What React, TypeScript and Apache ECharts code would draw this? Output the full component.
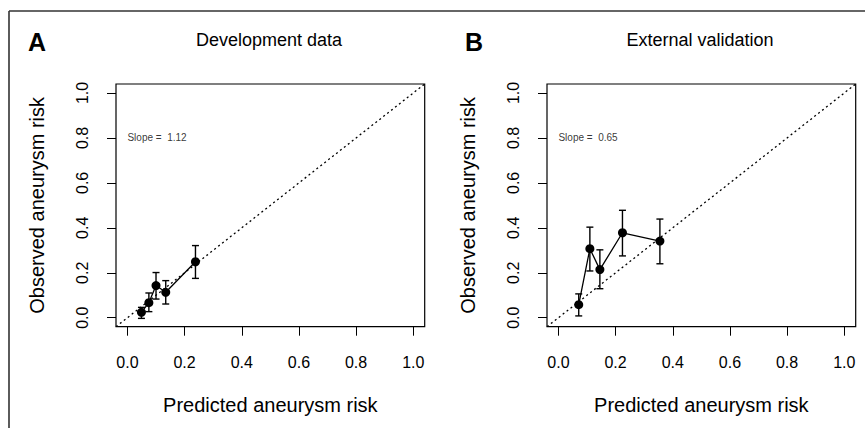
import React, { useEffect, useRef } from "react";
import * as echarts from "echarts";

// ---- data ----
const tickValues = [0, 0.2, 0.4, 0.6, 0.8, 1.0];
const devPredicted = [0.049, 0.075, 0.1, 0.134, 0.238];
const devObserved = [0.024, 0.067, 0.143, 0.113, 0.249];
const devLower = [-0.003, 0.027, 0.083, 0.061, 0.175];
const devUpper = [0.046, 0.11, 0.201, 0.165, 0.321];
const extPredicted = [0.071, 0.11, 0.145, 0.224, 0.355];
const extObserved = [0.058, 0.307, 0.214, 0.378, 0.341];
const extLower = [0.008, 0.208, 0.129, 0.275, 0.24];
const extUpper = [0.106, 0.403, 0.302, 0.478, 0.439];
const panelTitles = ["Development data", "External validation"];
const panelLetters = ["A", "B"];
const slopeLabels = ["Slope =  1.12", "Slope =  0.65"];
const slopePosition = [0, 0.8];
const diagonal = [-0.04, 1.04];
const xTitle = "Predicted aneurysm risk";
const yTitle = "Observed aneurysm risk";

const FONT = "'Liberation Sans', Arial, Helvetica, sans-serif";

export default function App() {
  const ref = useRef<HTMLDivElement>(null);

  useEffect(() => {
    if (!ref.current) return;
    const chart = echarts.init(ref.current, undefined, { renderer: "svg" });

    const gridLefts = [116, 547];
    const gridWidth = 308.7;
    const gridTop = 84;
    const gridHeight = 242.7;

    const panels = [
      { px: devPredicted, py: devObserved, lo: devLower, hi: devUpper },
      { px: extPredicted, py: extObserved, lo: extLower, hi: extUpper },
    ];

    const axisCommon = {
      min: diagonal[0],
      max: diagonal[1],
      splitLine: { show: false },
      axisLine: { show: false, onZero: false },
      axisTick: {
        show: true,
        inside: false,
        length: 9,
        customValues: tickValues,
        lineStyle: { color: "#000", width: 1 },
      },
    };

    const xAxes = gridLefts.map((_, i) => ({
      ...axisCommon,
      type: "value",
      gridIndex: i,
      position: "bottom",
      axisLabel: {
        customValues: tickValues,
        formatter: (v: number) => v.toFixed(1),
        color: "#000",
        fontSize: 16,
        fontFamily: FONT,
        margin: 28,
      },
      name: xTitle,
      nameLocation: "middle",
      nameGap: 68,
      nameTextStyle: { color: "#000", fontSize: 20, fontFamily: FONT },
    }));

    const yAxes = gridLefts.map((_, i) => ({
      ...axisCommon,
      type: "value",
      gridIndex: i,
      position: "left",
      axisLabel: {
        customValues: tickValues,
        formatter: (v: number) => v.toFixed(1),
        color: "#000",
        fontSize: 16,
        fontFamily: FONT,
        rotate: 90,
        margin: 26,
      },
      name: yTitle,
      nameLocation: "middle",
      nameGap: 69,
      nameTextStyle: { color: "#000", fontSize: 20, fontFamily: FONT },
    }));

    const series: any[] = [];
    panels.forEach((p, i) => {
      series.push({
        type: "line",
        xAxisIndex: i,
        yAxisIndex: i,
        data: [
          [diagonal[0], diagonal[0]],
          [diagonal[1], diagonal[1]],
        ],
        symbol: "none",
        lineStyle: { color: "#000", width: 1.3, type: [2, 3] },
        silent: true,
        z: 1,
      });
      series.push({
        type: "custom",
        xAxisIndex: i,
        yAxisIndex: i,
        coordinateSystem: "cartesian2d",
        data: p.px.map((x, k) => [x, p.lo[k], p.hi[k]]),
        encode: { x: 0, y: [1, 2] },
        renderItem: (params: any, api: any) => {
          const x = api.value(0);
          const a = api.coord([x, api.value(1)]);
          const b = api.coord([x, api.value(2)]);
          const w = 3.5;
          const style = { stroke: "#000", lineWidth: 1.4 };
          return {
            type: "group",
            children: [
              { type: "line", shape: { x1: a[0], y1: a[1], x2: b[0], y2: b[1] }, style },
              { type: "line", shape: { x1: a[0] - w, y1: a[1], x2: a[0] + w, y2: a[1] }, style },
              { type: "line", shape: { x1: b[0] - w, y1: b[1], x2: b[0] + w, y2: b[1] }, style },
            ],
          };
        },
        z: 2,
      });
      series.push({
        type: "line",
        xAxisIndex: i,
        yAxisIndex: i,
        data: p.px.map((x, k) => [x, p.py[k]]),
        symbol: "circle",
        symbolSize: 9,
        itemStyle: { color: "#000" },
        lineStyle: { color: "#000", width: 1.3 },
        z: 3,
      });
      series.push({
        type: "scatter",
        xAxisIndex: i,
        yAxisIndex: i,
        data: [slopePosition],
        symbolSize: 0,
        silent: true,
        label: {
          show: true,
          position: "right",
          distance: 0,
          formatter: slopeLabels[i],
          color: "#000",
          fontSize: 10,
          fontFamily: FONT,
        },
      });
    });

    const graphics: any[] = [
      { type: "line", shape: { x1: 9, y1: 11, x2: 865, y2: 11 }, style: { stroke: "#333", lineWidth: 1.6 } },
      { type: "line", shape: { x1: 9, y1: 11, x2: 9, y2: 428 }, style: { stroke: "#333", lineWidth: 1.6 } },
    ];
    const titleCenters = [269, 700];
    const letterLefts = [28, 465];
    panelTitles.forEach((t, i) => {
      graphics.push({
        type: "text",
        x: titleCenters[i],
        y: 40,
        style: {
          text: t,
          fill: "#000",
          font: `18px ${FONT}`,
          textAlign: "center",
          textVerticalAlign: "middle",
        },
      });
      graphics.push({
        type: "text",
        x: letterLefts[i],
        y: 42,
        style: {
          text: panelLetters[i],
          fill: "#000",
          font: `bold 25px ${FONT}`,
          textAlign: "left",
          textVerticalAlign: "middle",
        },
      });
    });

    chart.setOption({
      animation: false,
      backgroundColor: "#fff",
      grid: gridLefts.map((l) => ({
        left: l,
        top: gridTop,
        width: gridWidth,
        height: gridHeight,
        show: true,
        borderColor: "#000",
        borderWidth: 1.2,
        backgroundColor: "transparent",
        containLabel: false,
        outerBoundsMode: "none",
      })),
      xAxis: xAxes,
      yAxis: yAxes,
      series,
      graphic: graphics,
    });

    return () => chart.dispose();
  }, []);

  return (
    <div
      ref={ref}
      style={{ position: "absolute", left: 0, top: 0, width: 865, height: 428 }}
    />
  );
}
